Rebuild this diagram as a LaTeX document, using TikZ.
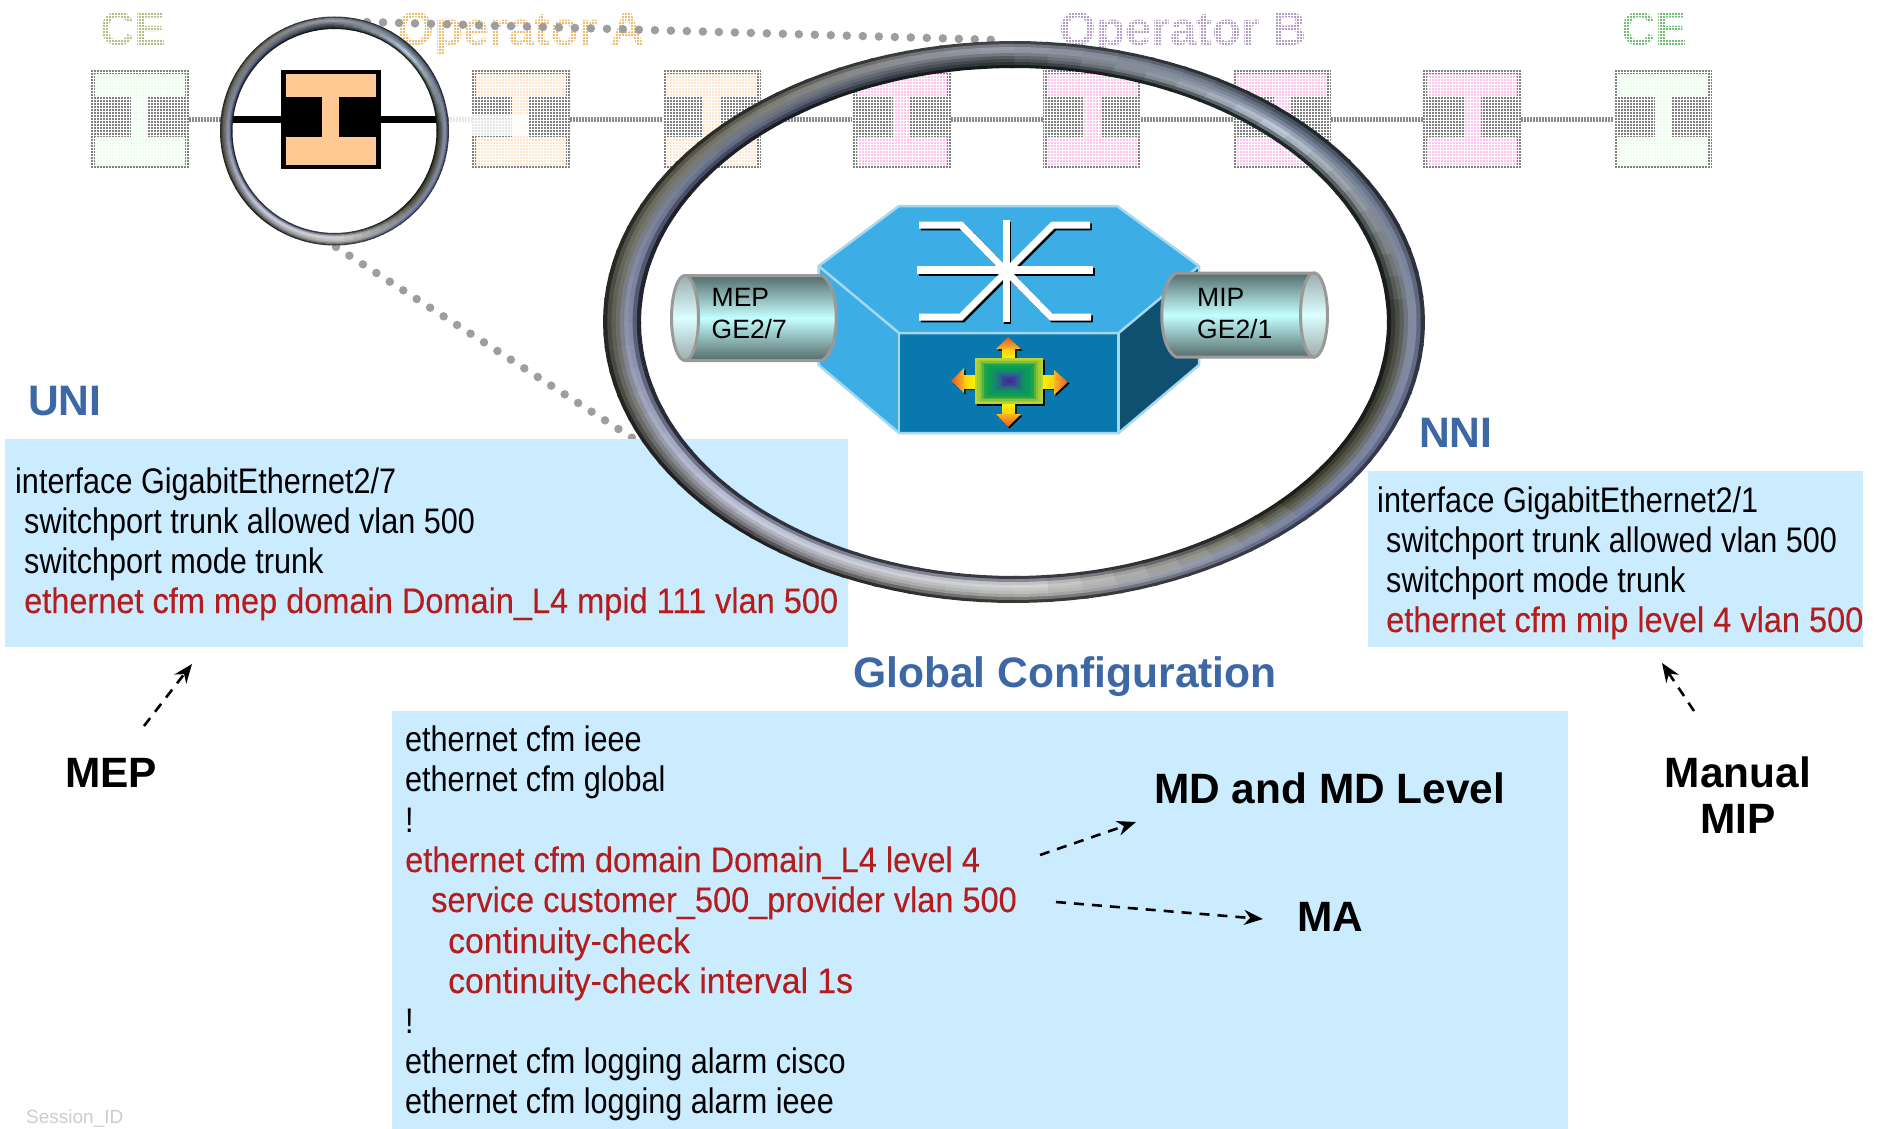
\documentclass[tikz,border=0pt]{standalone}
\usepackage{fontspec}
\setmainfont{Liberation Sans}
\newfontfamily\narrowf[FakeStretch=0.862]{Liberation Sans}
\newfontfamily\redf[FakeStretch=0.916,FakeBold=0.2]{Liberation Sans}
\newfontfamily\redw[FakeStretch=0.95,FakeBold=0.2]{Liberation Sans}
\usetikzlibrary{arrows.meta,calc,shapes.geometric}
\definecolor{boxblue}{HTML}{CBECFF}
\definecolor{cfgred}{HTML}{B51C1C}
\definecolor{headblue}{HTML}{3D68A6}
\definecolor{peach}{HTML}{FFC993}
\definecolor{toplt}{HTML}{3CAEE5}
\definecolor{frontc}{HTML}{0878AF}
\definecolor{sidec}{HTML}{0F4F70}
\definecolor{edgec}{HTML}{A5D8EC}
\definecolor{cyldark}{HTML}{566C6C}
\definecolor{cyllight}{HTML}{C4FFFF}
\definecolor{capdark}{HTML}{9CACAC}
\definecolor{caplight}{HTML}{DCFFFF}
\definecolor{devgray}{HTML}{808080}
\definecolor{linkgray}{HTML}{8C8C8C}
\definecolor{pinkf}{HTML}{FFC4EE}
\definecolor{greenf}{HTML}{E8FFE8}
\definecolor{orangef}{HTML}{FFE6CC}
\definecolor{celeft}{HTML}{B4C084}
\definecolor{opacol}{HTML}{ECBC70}
\definecolor{opbcol}{HTML}{B49CC6}
\definecolor{ceright}{HTML}{74BE74}
\definecolor{stemy}{HTML}{FFF000}
\definecolor{tipr}{HTML}{E4582C}
\definecolor{tipo}{HTML}{F8B820}
\newcommand{\ringkey}[5]{%
  \definecolor{K#1p0}{HTML}{#2}\definecolor{K#1p1}{HTML}{#3}%
  \definecolor{K#1p2}{HTML}{#4}\definecolor{K#1p3}{HTML}{#5}}
% key: 0 right, 1 top-right, 2 top, 3 top-left, 4 left, 5 bottom-left, 6 bottom, 7 bottom-right; outer to inner
\ringkey{0}{4A5468}{8E96B0}{50544A}{262C28}
\ringkey{1}{343F44}{647288}{D0D8E8}{182C2C}
\ringkey{2}{6C7078}{A0A4B0}{484C50}{202828}
\ringkey{3}{48483E}{7C7C6E}{6E7690}{262C3E}
\ringkey{4}{40403A}{64645A}{949CBC}{30344A}
\ringkey{5}{282828}{888890}{D4D8EE}{3C4258}
\ringkey{6}{585852}{B8B8B4}{D8D8D8}{54566A}
\ringkey{7}{5E6690}{7E86A8}{5C5C4A}{2E2E26}
\tikzset{
  x=1pt,y=-1pt,
  cfg/.style={anchor=base west,inner sep=0pt,font=\narrowf\fontsize{35.5}{40}\selectfont,text=black},
  cfgr/.style={anchor=base west,inner sep=0pt,font=\redf\fontsize{35.5}{40}\selectfont,text=cfgred},
  cfgw/.style={cfgr,font=\redw\fontsize{35.5}{40}\selectfont},
  head/.style={anchor=base west,inner sep=0pt,font=\bfseries\fontsize{42.6}{42}\selectfont,text=headblue},
  lab/.style={anchor=base,inner sep=0pt,font=\bfseries\fontsize{42.4}{42}\selectfont,text=black},
  toplab/.style={anchor=base west,inner sep=0pt,font=\bfseries\fontsize{47.5}{46}\selectfont},
  cyltxt/.style={anchor=base west,inner sep=0pt,font=\fontsize{26.5}{30}\selectfont,text=black},
  devbase/.style={rectangle,minimum width=98pt,minimum height=99pt,inner sep=0pt,fill=devgray},
  link/.style={draw=linkgray,line width=5.5pt,dash pattern=on 2.2pt off 0.8pt},
  dots/.style={draw=black!38,line width=8.5pt,line cap=round,dash pattern=on 0pt off 16pt},
  note/.style={-{Stealth[length=19pt,width=15pt]},line width=2.6pt,dash pattern=on 10pt off 8pt,black},
  cfgbox/.style={fill=boxblue,inner sep=0pt,rectangle}
}
\newcommand{\devshape}[2]{%
  \fill[#2] (-45,-45.5) rectangle (45,-22.5);
  \fill[#2] (-45,17.5) rectangle (45,45.5);
  \fill[#2] (-#1,-23) rectangle (#1,18);
}
% cx, cy, outer rx, outer ry, inner rx, inner ry
\newcommand{\metalring}[6]{%
  \foreach \sg in {0,...,71}{
    \pgfmathtruncatemacro\ka{floor(\sg/9)}
    \pgfmathtruncatemacro\kb{mod(\ka+1,8)}
    \pgfmathsetmacro\pc{100*(1-(\sg-9*\ka)/9)}
    \colorlet{sa0}{K\ka p0!\pc!K\kb p0}
    \colorlet{sa1}{K\ka p1!\pc!K\kb p1}
    \colorlet{sa2}{K\ka p2!\pc!K\kb p2}
    \colorlet{sa3}{K\ka p3!\pc!K\kb p3}
    \pgfmathsetmacro\aa{\sg*5}
    \pgfmathsetmacro\ab{\sg*5+5.5}
    \pgfmathsetmacro\am{\sg*5+2.75}
    \foreach \bd/\rim in {0/55,1/90,2/100,3/100,4/100,5/100,6/100,7/90,8/55}{
      \pgfmathsetmacro\ta{\bd/9}
      \pgfmathsetmacro\tb{min(1,(\bd+1.4)/9)}
      \pgfmathsetmacro\tv{(\bd+.5)/9*3}
      \pgfmathtruncatemacro\qa{floor(\tv)}
      \pgfmathtruncatemacro\qb{\qa+1}
      \pgfmathsetmacro\fr{100*(1-(\tv-\qa))}
      \colorlet{bc}{sa\qa!\fr!sa\qb}
      \colorlet{bd}{bc!\rim!black}
      \pgfmathsetmacro\xra{#3+(#5-#3)*\ta}
      \pgfmathsetmacro\yra{#4+(#6-#4)*\ta}
      \pgfmathsetmacro\xrb{#3+(#5-#3)*\tb}
      \pgfmathsetmacro\yrb{#4+(#6-#4)*\tb}
      \fill[bd] ({#1+\xra*cos(\aa)},{#2-\yra*sin(\aa)})
        -- ({#1+\xra*cos(\am)},{#2-\yra*sin(\am)})
        -- ({#1+\xra*cos(\ab)},{#2-\yra*sin(\ab)})
        -- ({#1+\xrb*cos(\ab)},{#2-\yrb*sin(\ab)})
        -- ({#1+\xrb*cos(\am)},{#2-\yrb*sin(\am)})
        -- ({#1+\xrb*cos(\aa)},{#2-\yrb*sin(\aa)}) -- cycle;
    }
  }
}
\begin{document}
\begin{tikzpicture}
\useasboundingbox (0,0) rectangle (1885,1129);
\clip (0,0) rectangle (1885,1129);
% faded labels
\node[toplab,text=celeft] (ce1) at (100,46) {CE};
\node[toplab,text=opacol] (opa) at (397,46) {Operator A};
\node[toplab,text=opbcol] (opb) at (1059,46) {Operator B};
\node[toplab,text=ceright] (ce2) at (1621,46) {CE};
% faded devices
\foreach \n/\cx/\f in {d1/139.5/greenf,d2/520.5/orangef,d3/711.5/orangef,d4/901.5/pinkf,d5/1092/pinkf,d6/1282/pinkf,d7/1472/pinkf,d8/1663/greenf}{
  \begin{scope}[shift={(\cx,119.5)}]
    \node[devbase] (\n) at (0,0) {};
    \devshape{8.5}{\f}
  \end{scope}
}
\draw[white,line width=.8pt,xstep=3pt,ystep=3pt] (88,68) grid (1712,172);
\draw[white,line width=.5pt,xstep=3pt,ystep=3pt] (95,6) grid (1700,60);
\foreach \a/\b in {d1/d2,d2/d3,d3/d4,d4/d5,d5/d6,d6/d7,d7/d8}{ \draw[link] (\a) -- (\b); }
\fill[white,opacity=.8] (450,115) rectangle (529,135);
% dotted zoom lines
\coordinate (zt1) at (367,22);
\coordinate (zt2) at (1000,40);
\coordinate (zb1) at (336,247);
\coordinate (zb2) at (634,439);
\draw[dots] (zt1) -- (zt2);
\draw[dots] (zb1) -- (zb2);
% config boxes
\node[cfgbox,minimum width=843pt,minimum height=208pt,anchor=north west] (unibox) at (5,439) {};
\node[cfgbox,minimum width=495pt,minimum height=176pt,anchor=north west] (nnibox) at (1368,471) {};
\node[cfgbox,minimum width=1176pt,minimum height=418pt,anchor=north west] (globox) at (392,711) {};
% small ring
\node[ellipse,fill=white,minimum width=220pt,minimum height=220pt,inner sep=0pt] (smallring) at (334.5,131) {};
\coordinate (al) at (232,119.5);
\coordinate (ar) at (438,119.5);
\draw[black,line width=6.5pt] (al) -- (ar);
\begin{scope}[shift={(330.5,119.5)}]
  \node[devbase,fill=black,minimum width=100pt] (active) at (0,0) {};
  \devshape{8.5}{peach}
\end{scope}
\metalring{334.5}{131}{114.5}{114.5}{102}{102}
% large ring
\metalring{1014}{322}{411}{281}{373}{254}
% switch
\fill[toplt] (818.6,266) -- (899,206) -- (1117,206) -- (1199,266) -- (1199,365) -- (1118.6,433) -- (899,433) -- (818.6,365) -- cycle;
\fill[sidec] (1118.6,333) -- (1199,266) -- (1199,365) -- (1118.6,433) -- cycle;
\fill[frontc] (899,333) rectangle (1118.6,433);
\draw[edgec,line width=2.5pt,line join=round] (818.6,266) -- (899,206) -- (1117,206) -- (1199,266) -- (1118.6,333) -- (899,333) -- cycle;
\draw[edgec,line width=2.5pt,line join=round] (818.6,266) -- (818.6,365) -- (899,433) -- (1118.6,433) -- (1199,365) -- (1199,266);
\draw[edgec,line width=2.5pt] (899,333) -- (899,433) (1118.6,333) -- (1118.6,433);
% switch symbol
\foreach \dx/\cv in {1.8/black,0/white}{
  \begin{scope}[shift={(\dx,\dx)}]
    \draw[\cv,line width=7pt] (1006,220) -- (1006,322);
    \draw[\cv,line width=8pt] (917,270) -- (1093,270);
    \draw[\cv,line width=7pt] (919,225) -- (961,225) -- (1051,317) -- (1091,317);
    \draw[\cv,line width=7pt] (1090,225) -- (1053,225) -- (961,317) -- (919,317);
  \end{scope}
}
% core icon: shadows
\begin{scope}[shift={(1.5,1.5)}]
  \fill[black] (1008,337) -- (1021,349) -- (1015,349) -- (1015,358) -- (1002,358) -- (1002,349) -- (996,349) -- cycle;
  \fill[black] (1008,427) -- (1021,414) -- (1015,414) -- (1015,404) -- (1002,404) -- (1002,414) -- (996,414) -- cycle;
  \fill[black] (951,381) -- (964,368) -- (964,375) -- (975,375) -- (975,388) -- (964,388) -- (964,393) -- cycle;
  \fill[black] (1068,382) -- (1054,370) -- (1054,375) -- (1043,375) -- (1043,388) -- (1054,388) -- (1054,395) -- cycle;
  \fill[black] (975,358) rectangle (1043,404);
\end{scope}
\shade[top color=tipo!60!stemy,bottom color=stemy] (1002,349) rectangle (1015,358);
\shade[bottom color=tipo!60!stemy,top color=stemy] (1002,404) rectangle (1015,414);
\shade[left color=tipo!60!stemy,right color=stemy] (964,375) rectangle (975,388);
\shade[right color=tipo!60!stemy,left color=stemy] (1043,375) rectangle (1054,388);
\shade[top color=tipr,bottom color=tipo] (1008,337) -- (1021,349) -- (996,349) -- cycle;
\shade[bottom color=tipr,top color=tipo] (1008,427) -- (1021,414) -- (996,414) -- cycle;
\shade[left color=tipr,right color=tipo] (951,381) -- (964,368) -- (964,393) -- cycle;
\shade[right color=tipr,left color=tipo] (1068,382) -- (1054,370) -- (1054,395) -- cycle;
\foreach \k/\cv in {0/B8D430,1/A4CC34,2/84C038,3/58B040,4/20A448,5/0AA050,6/089C58,7/0C9460,8/16886C,9/207878,10/2A6488,11/305094,12/383C94,13/403090}{
  \definecolor{ic}{HTML}{\cv}
  \fill[ic] ({975+\k*2.35},{358+\k*1.6}) rectangle ({1043-\k*2.35},{404-\k*1.6});
}
% cylinders
\shade[top color=cyldark,bottom color=cyldark,middle color=cyllight,draw=black!40,line width=3pt]
  (685,275.5) -- (822,275.5) .. controls (841,285) and (841,351) .. (822,360.5) -- (685,360.5) -- cycle;
\shade[top color=capdark,bottom color=capdark,middle color=caplight,draw=black!40,line width=3pt] (685,318) ellipse [x radius=13.5,y radius=42.5];
\node[cyltxt] (mep1) at (711.5,306) {MEP};
\node[cyltxt] (mep2) at (711.5,338) {GE2/7};
\shade[top color=cyldark,bottom color=cyldark,middle color=cyllight,draw=black!40,line width=3pt]
  (1314,273) -- (1176,273) .. controls (1157,283) and (1157,347) .. (1176,357) -- (1314,357) -- cycle;
\shade[top color=capdark,bottom color=capdark,middle color=caplight,draw=black!40,line width=3pt] (1314,315) ellipse [x radius=13.5,y radius=42];
\node[cyltxt] (mip1) at (1197,306) {MIP};
\node[cyltxt] (mip2) at (1197,338) {GE2/1};
% headings
\node[head] (uni) at (28,415) {UNI};
\node[head] (nni) at (1419,447) {NNI};
\node[head] (glob) at (853,687) {Global Configuration};
% UNI text
\node[cfg] (u1) at (15,493) {interface GigabitEthernet2/7};
\node[cfg] (u2) at (24,533) {switchport trunk allowed vlan 500};
\node[cfg] (u3) at (24,573) {switchport mode trunk};
\node[cfgr] (u4) at (24,613) {ethernet cfm mep domain Domain\_L4 mpid 111 vlan 500};
% NNI text
\node[cfg] (n1) at (1377,512) {interface GigabitEthernet2/1};
\node[cfg] (n2) at (1386,552) {switchport trunk allowed vlan 500};
\node[cfg] (n3) at (1386,592) {switchport mode trunk};
\node[cfgr] (n4) at (1386,632) {ethernet cfm mip level 4 vlan 500};
% global text
\node[cfg] (g1) at (405,751) {ethernet cfm ieee};
\node[cfg] (g2) at (405,791) {ethernet cfm global};
\node[cfg] (g3) at (405,832) {!};
\node[cfgr] (g4) at (405,872) {ethernet cfm domain Domain\_L4 level 4};
\node[cfgr] (g5) at (431,912) {service customer\_500\_provider vlan 500};
\node[cfgw] (g6) at (448,953) {continuity-check};
\node[cfgw] (g7) at (448,993) {continuity-check interval 1s};
\node[cfg] (g8) at (405,1033) {!};
\node[cfg] (g9) at (405,1073) {ethernet cfm logging alarm cisco};
\node[cfg] (g10) at (405,1113) {ethernet cfm logging alarm ieee};
% labels
\node[lab] (lmep) at (111,787) {MEP};
\node[lab] (lman) at (1738,787) {Manual};
\node[lab] (lmip) at (1738,833) {MIP};
\node[lab,anchor=base west] (lmd) at (1154,803) {MD and MD Level};
\node[lab,anchor=base west] (lma) at (1297,931) {MA};
\node[anchor=base west,inner sep=0pt,font=\fontsize{19}{19}\selectfont,text=black!20] (sess) at (26,1123) {Session\_ID};
% arrows
\coordinate (a1s) at (144,726); \coordinate (a1e) at (192,664);
\coordinate (a2s) at (1694,711); \coordinate (a2e) at (1662,663);
\coordinate (a3s) at (1040,855); \coordinate (a3e) at (1136,822);
\coordinate (a4s) at (1056,902); \coordinate (a4e) at (1263,919);
\draw[note] (a1s) -- (a1e);
\draw[note] (a2s) -- (a2e);
\draw[note] (a3s) -- (a3e);
\draw[note] (a4s) -- (a4e);
\end{tikzpicture}
\end{document}
